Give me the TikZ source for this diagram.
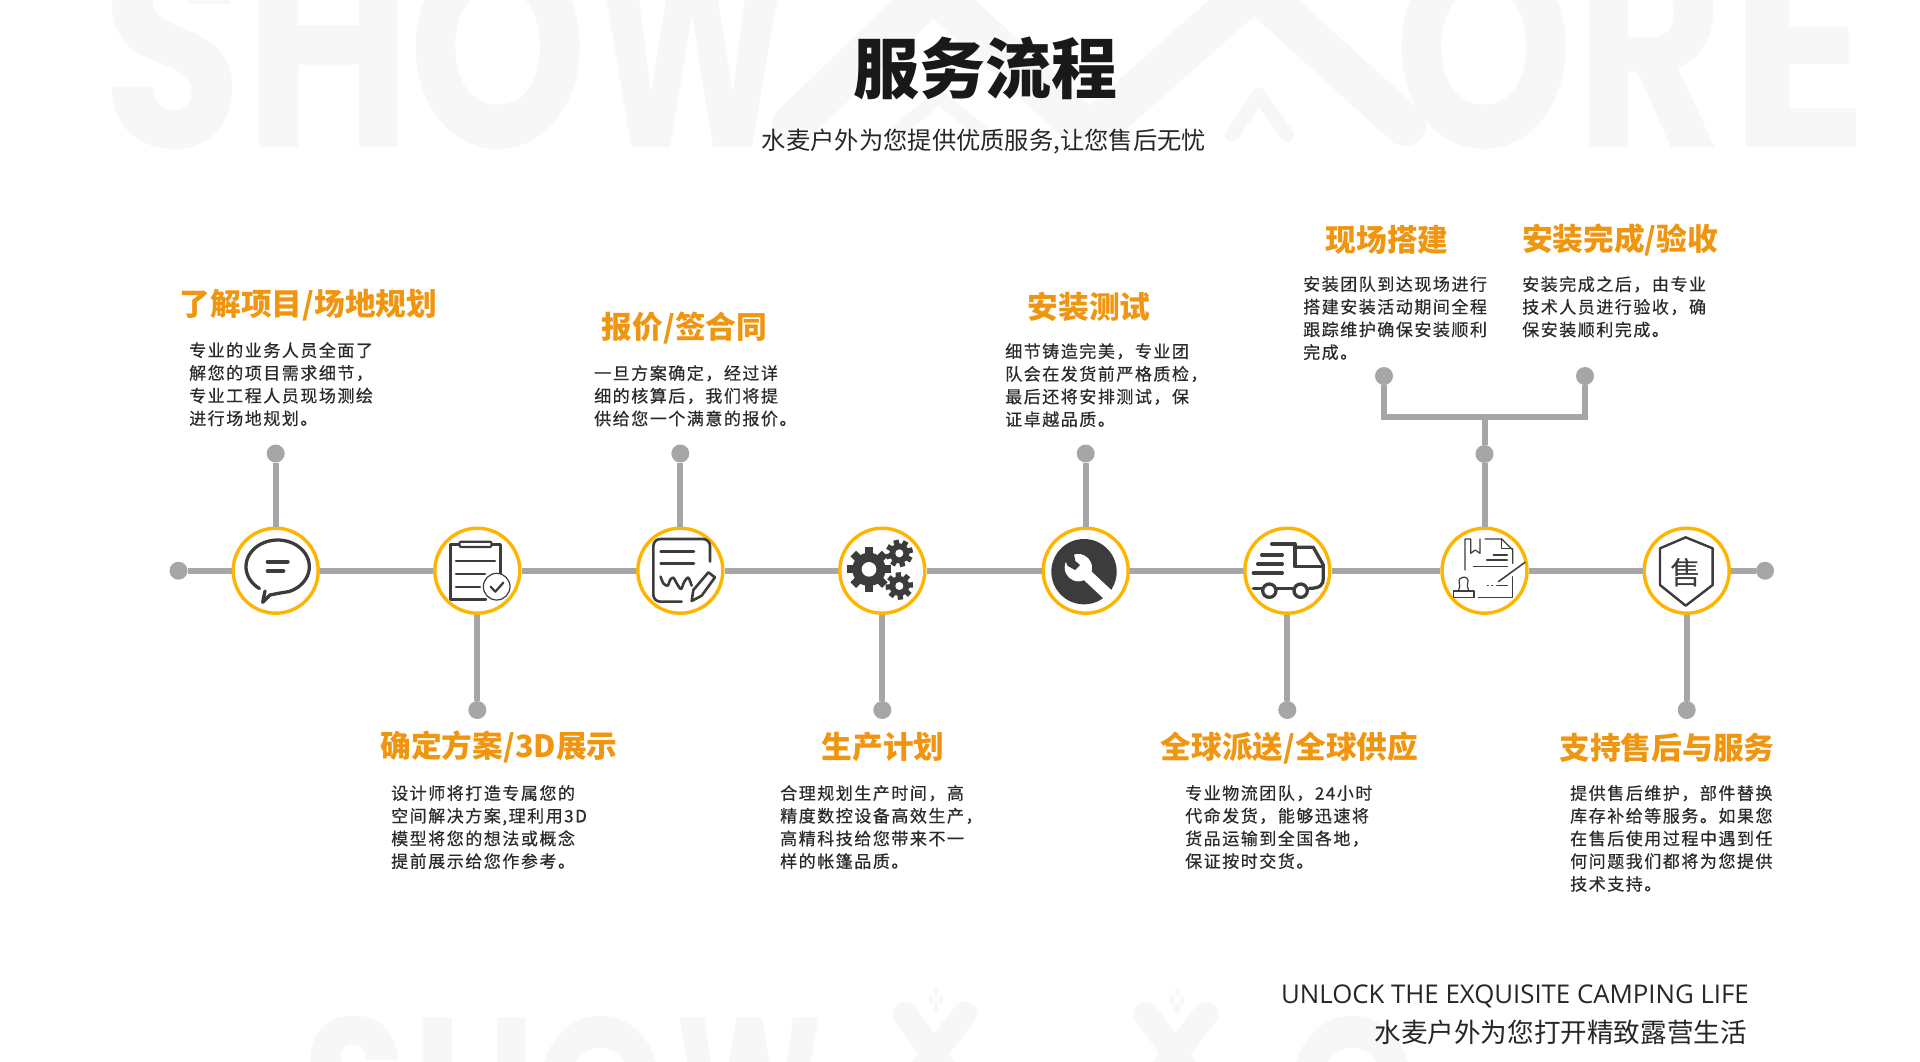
\documentclass[tikz,border=0pt]{standalone}
\usepackage{fontspec}
\setmainfont{Noto Sans CJK SC}
\newfontfamily\bodyfont[LetterSpace=9,FakeBold=0.5]{Noto Sans CJK SC}
\newfontfamily\wmfont{Poppins}[UprightFont=* Bold]
\newfontfamily\latinfont{Open Sans}
\definecolor{grayline}{HTML}{A6A6A6}
\definecolor{ringorange}{HTML}{FFB400}
\definecolor{titleorange}{HTML}{F0950F}
\definecolor{iconink}{HTML}{3C3C3C}
\definecolor{wmgray}{HTML}{F7F7F7}
\definecolor{bodyink}{HTML}{2A2A2A}
\tikzset{
  ring/.style={circle,draw=ringorange,fill=white,line width=3.4pt,minimum size=85pt,inner sep=0pt},
  enddot/.style={circle,fill=grayline,minimum size=18pt,inner sep=0pt},
  conn/.style={draw=grayline,line width=6pt},
  ttl/.style={font=\fontsize{30.7}{34}\selectfont\bfseries,text=titleorange,inner sep=0pt,anchor=center},
  para/.style={font=\bodyfont\fontsize{17}{22.7}\selectfont,text=bodyink,inner sep=0pt,anchor=north west,align=left},
  iconline/.style={draw=iconink,line width=3.3pt,line cap=round,line join=round},
  iconthin/.style={draw=iconink,line width=1.2pt,line cap=round,line join=round},
  iconbox/.style={x=0.33333pt,y=-0.33333pt},
  wmletter/.style={font=\wmfont\fontsize{285}{285}\selectfont,text=wmgray,inner sep=0pt,anchor=base},
  wmsmall/.style={font=\wmfont\fontsize{210}{210}\selectfont,text=wmgray,inner sep=0pt,anchor=base},
  wmstroke/.style={draw=wmgray,line cap=round,line join=round},
}
\begin{document}
\begin{tikzpicture}[x=1pt,y=-1pt]
\useasboundingbox (0,0) rectangle (1920,1061);
\clip (0,0) rectangle (1920,1061);
% watermark, top
\node[wmletter] (wS) at (173,147) {\scalebox{.8}[1]{S}};
\node[wmletter] (wH) at (329,147) {\scalebox{.8}[1]{H}};
\node[wmletter] (wO) at (498,147) {\scalebox{.8}[1]{O}};
\node[wmletter] (wW) at (692,147) {\scalebox{.66}[1]{W}};
\node[wmletter] (wO2) at (1484,147) {\scalebox{.8}[1]{O}};
\node[wmletter] (wR) at (1650,147) {\scalebox{.8}[1]{R}};
\node[wmletter] (wE) at (1800,147) {\scalebox{.9}[1]{E}};
\draw[wmstroke,line width=42pt] (793,125) -- (933,-10) -- (1075,120);
\draw[wmstroke,line width=42pt] (1105,120) -- (1254,-12) -- (1405,125);
\draw[wmstroke,line width=14pt] (893,135) -- (939,97) -- (985,135);
\draw[wmstroke,line width=14pt] (1232,135) -- (1259,95) -- (1287,135);
% watermark, bottom
\node[wmsmall] (bS) at (355,1165) {\scalebox{.8}[1]{S}};
\node[wmsmall] (bH) at (475,1165) {\scalebox{.8}[1]{H}};
\node[wmsmall] (bO) at (601,1165) {\scalebox{.8}[1]{O}};
\node[wmsmall] (bW) at (749,1165) {\scalebox{.66}[1]{W}};
\node[wmsmall] (bO2) at (1353,1165) {\scalebox{.8}[1]{O}};
\foreach \dx in {0,241}{
  \begin{scope}[shift={(\dx,0)}]
  \draw[wmstroke,line width=25pt] (905,1014) -- (960,1090);
  \draw[wmstroke,line width=25pt] (965,1014) -- (905,1090);
  \fill[wmgray] (936,1008) ellipse (3 and 6);
  \fill[wmgray] (931,1000) ellipse (2.5 and 5);
  \fill[wmgray] (941,1000) ellipse (2.5 and 5);
  \fill[wmgray] (936,992) ellipse (2.5 and 4);
  \end{scope}
}
% heading
\node[font=\fontsize{66}{70}\selectfont\bfseries,text=black!90,inner sep=0pt] (head) at (985,68) {服务流程};
\node[font=\fontsize{24.3}{30}\selectfont,text=black!85,inner sep=0pt] (sub) at (984,142) {水麦户外为您提供优质服务,让您售后无忧};
% dots
\node[enddot] (dL) at (178.5,570.7) {};
\node[enddot] (dR) at (1765,570.7) {};
\node[enddot] (d1) at (275.7,453.5) {};
\node[enddot] (d2) at (477.3,710) {};
\node[enddot] (d3) at (680.3,453.5) {};
\node[enddot] (d4) at (882.3,710) {};
\node[enddot] (d5) at (1085.7,453.5) {};
\node[enddot] (d6) at (1287.3,710) {};
\node[enddot] (d7) at (1484.5,454) {};
\node[enddot] (d8) at (1686.7,710) {};
\node[enddot] (dA) at (1384,376) {};
\node[enddot] (dB) at (1585,376) {};
\coordinate (jm) at (1484.5,417);
% rings
\node[ring] (c1) at (275.7,570.7) {};
\node[ring] (c2) at (477.3,570.7) {};
\node[ring] (c3) at (680.3,570.7) {};
\node[ring] (c4) at (882.3,570.7) {};
\node[ring] (c5) at (1085.7,570.7) {};
\node[ring] (c6) at (1287.3,570.7) {};
\node[ring] (c7) at (1484.5,570.7) {};
\node[ring] (c8) at (1686.7,570.7) {};
% connectors
\draw[conn] (dL) -- (c1);
\draw[conn] (c1) -- (c2);
\draw[conn] (c2) -- (c3);
\draw[conn] (c3) -- (c4);
\draw[conn] (c4) -- (c5);
\draw[conn] (c5) -- (c6);
\draw[conn] (c6) -- (c7);
\draw[conn] (c7) -- (c8);
\draw[conn] (c8) -- (dR);
\draw[conn] (c1) -- (d1);
\draw[conn] (c2) -- (d2);
\draw[conn] (c3) -- (d3);
\draw[conn] (c4) -- (d4);
\draw[conn] (c5) -- (d5);
\draw[conn] (c6) -- (d6);
\draw[conn] (c8) -- (d8);
\draw[conn] (c7) -- (d7);
\draw[conn] (d7) -- (jm);
\draw[conn] (dA) |- (jm) -| (dB);
% icons 1,2
\begin{scope}[shift={(220,515)},iconbox]
  \draw[iconline] plot[smooth,domain=-70:235,samples=50,variable=\t] ({173+95*cos(\t)},{155-80*sin(\t)});
  \draw[iconline] (205,230) -- (175,235) -- (150,240) -- (128,262) -- (135,228);
  \draw[iconline,line width=4pt] (143,140) -- (203,140);
  \draw[iconline,line width=4pt] (143,168) -- (190,168);
  % clipboard
  \draw[iconline,line width=2.4pt] (718,88) -- (692,88) -- (692,253) -- (798,253);
  \draw[iconline,line width=2.4pt] (815,88) -- (842,88) -- (842,188);
  \draw[iconline,line width=2.2pt,rounded corners=2pt] (718,80) rectangle (815,96);
  \draw[iconline,line width=2.2pt] (708,137) -- (825,137);
  \draw[iconline,line width=2.2pt] (708,176) -- (795,176);
  \draw[iconline,line width=2.2pt] (708,215) -- (780,215);
  \draw[iconthin,fill=white] (830,215) circle[radius=40];
  \draw[iconline,line width=2.2pt] (812,215) -- (826,230) -- (850,203);
\end{scope}
% icons 3,4
\begin{scope}[shift={(620,515)},iconbox]
  \draw[iconline,line width=2.6pt,rounded corners=7pt] (270,140) -- (270,72) -- (100,72) -- (100,260) -- (185,260);
  \draw[iconline,line width=2.6pt] (122,110) -- (222,110);
  \draw[iconline,line width=2.6pt] (122,145) -- (222,145);
  \draw[iconline,line width=2.6pt] plot[smooth] coordinates {(122,185) (130,205) (143,212) (150,195) (160,188) (170,205) (183,222) (193,200) (205,188) (215,212)};
  \draw[iconline,line width=2.6pt] (215,258) -- (220,225) -- (265,172) -- (285,187) -- (245,242) -- cycle;
  \foreach \cx/\cy/\rO/\rB/\rH/\tw/\off in {747/163/67/50/22/12/0,838/115/41/30/12/8/15,838/213/41/30/12/8/5}{
    \foreach \a in {0,45,...,315}{
      \fill[iconink,shift={(\cx,\cy)},rotate=\a+\off] (-\tw,-\rO) rectangle (\tw,0);
    }
    \fill[iconink] (\cx,\cy) circle[radius=\rB];
    \fill[white] (\cx,\cy) circle[radius=\rH];
  }
\end{scope}
% icons 5,6
\begin{scope}[shift={(1030,515)},iconbox]
  \fill[iconink] (162,170) circle[radius=98];
  \begin{scope}
    \clip (162,170) circle[radius=104];
    \draw[white,line width=11.5pt] (160,170) -- (240,245);
  \end{scope}
  \fill[white] (145,158) circle[radius=41];
  \fill[iconink] (102,122) -- (132,118) -- (136,138) -- (150,150) -- (135,165) -- (112,152) -- cycle;
  % truck
  \draw[iconline] (725,87) -- (795,87) -- (795,155) -- (878,155);
  \draw[iconline] (795,97) -- (850,97) -- (880,150) -- (880,190) .. controls (880,210) and (870,220) .. (838,220);
  \draw[iconline] (670,220) -- (695,220);
  \draw[iconline] (742,220) -- (790,220);
  \draw[iconline] (718,227) circle[radius=20];
  \draw[iconline] (812,227) circle[radius=20];
  \draw[iconline] (695,120) -- (757,120);
  \draw[iconline] (683,147) -- (757,147);
  \draw[iconline] (670,174) -- (757,174);
\end{scope}
% icons 7,8
\begin{scope}[shift={(1430,515)},iconbox]
  \draw[iconthin] (105,165) -- (105,72) -- (122,72) -- (122,115) -- (136,105) -- (150,115) -- (150,72);
  \draw[iconthin] (165,72) -- (215,72) -- (248,105) -- (248,145);
  \draw[iconthin] (215,72) -- (215,100) -- (248,100);
  \draw[iconthin] (190,120) -- (232,120);
  \draw[iconthin] (170,135) -- (232,135);
  \draw[iconthin] (130,155) -- (232,155);
  \draw[iconthin,line width=1.5pt] (205,200) -- (285,142);
  \draw[iconthin] (200,212) -- (232,212);
  \draw[iconthin] (172,212) -- (175,212);
  \draw[iconthin] (185,212) -- (188,212);
  \draw[iconthin] (248,185) -- (248,248) -- (145,248);
  \draw[iconthin] (70,247) -- (132,247) -- (132,228) -- (70,228) -- cycle;
  \draw[iconthin] (85,228) .. controls (88,215) and (92,212) .. (88,205) .. controls (80,180) and (122,180) .. (113,205) .. controls (109,212) and (113,215) .. (117,228);
  \draw[iconline,line width=2.4pt] (767,67) -- (848,100) -- (848,210) -- (767,272) -- (690,210) -- (690,100) -- cycle;
  \node[font=\fontsize{31}{31}\selectfont,text=iconink,inner sep=0pt] (shou) at (768,172) {售};
\end{scope}
% titles
\node[ttl] (t1) at (308.5,305) {了解项目/场地规划};
\node[ttl] (t2) at (499,747) {确定方案/3D展示};
\node[ttl] (t3) at (684.5,328) {报价/签合同};
\node[ttl] (t4) at (883,747) {生产计划};
\node[ttl] (t5) at (1089,307) {安装测试};
\node[ttl] (t6) at (1289.5,748) {全球派送/全球供应};
\node[ttl] (t7) at (1387,240) {现场搭建};
\node[ttl] (t8) at (1620,240) {安装完成/验收};
\node[ttl] (t9) at (1667,748) {支持售后与服务};
% paragraphs
\node[para] (p1) at (189,342) {专业的业务人员全面了\\解您的项目需求细节，\\专业工程人员现场测绘\\进行场地规划。};
\node[para] (p2) at (391,785) {设计师将打造专属您的\\空间解决方案,理利用3D\\模型将您的想法或概念\\提前展示给您作参考。};
\node[para] (p3) at (594,365) {一旦方案确定，经过详\\细的核算后，我们将提\\供给您一个满意的报价。};
\node[para] (p4) at (780,785) {合理规划生产时间，高\\精度数控设备高效生产，\\高精科技给您带来不一\\样的帐篷品质。};
\node[para] (p5) at (1005,343) {细节铸造完美，专业团\\队会在发货前严格质检，\\最后还将安排测试，保\\证卓越品质。};
\node[para] (p6) at (1185,785) {专业物流团队，24小时\\代命发货，能够迅速将\\货品运输到全国各地，\\保证按时交货。};
\node[para] (p7) at (1303,276) {安装团队到达现场进行\\搭建安装活动期间全程\\跟踪维护确保安装顺利\\完成。};
\node[para] (p8) at (1522,276) {安装完成之后，由专业\\技术人员进行验收，确\\保安装顺利完成。};
\node[para] (p9) at (1570,785) {提供售后维护，部件替换\\库存补给等服务。如果您\\在售后使用过程中遇到任\\何问题我们都将为您提供\\技术支持。};
% footer
\node[font=\latinfont\fontsize{25.8}{28}\selectfont,text=black!85,inner sep=0pt,anchor=east] (f1) at (1749,996) {UNLOCK THE EXQUISITE CAMPING LIFE};
\node[font=\fontsize{26.6}{30}\selectfont,text=black!85,inner sep=0pt,anchor=east] (f2) at (1747,1032) {水麦户外为您打开精致露营生活};
\end{tikzpicture}
\end{document}
